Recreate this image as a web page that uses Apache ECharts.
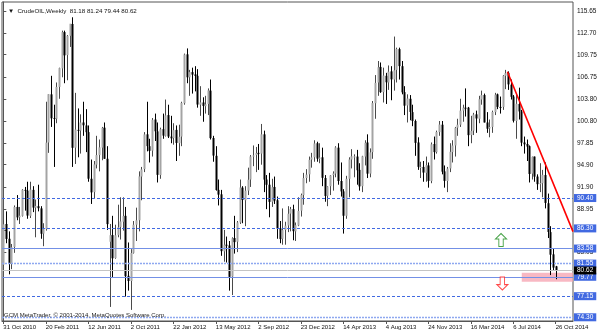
<!DOCTYPE html>
<html><head><meta charset="utf-8">
<script src="https://cdn.jsdelivr.net/npm/echarts@6/dist/echarts.min.js"></script>
<style>html,body{margin:0;padding:0;background:#fff}#c{width:600px;height:333px}</style>
</head><body><div id="c"></div>
<script>
// Weekly bars, first bar = week of 31 Oct 2010
const firstWeek = '2010-10-31';
const open = [81.4,86.9,84.9,81.5,83.8,89.2,87.8,88.0,91.5,91.4,
88.0,91.5,89.1,89.3,89.0,85.6,86.2,97.9,104.4,101.2,
101.1,105.4,107.9,112.8,109.7,112.3,113.9,97.2,99.6,99.5,
100.6,100.2,99.3,93.0,91.2,94.9,96.2,97.2,99.9,95.7,
84.5,85.4,82.3,85.4,86.5,87.2,88.0,79.9,79.2,83.0,
86.8,87.4,93.3,94.3,99.0,97.4,96.8,101.0,99.4,93.5,
99.7,98.8,101.6,98.7,98.5,99.6,97.8,98.7,103.2,109.8,
106.7,107.4,107.1,106.9,103.0,103.3,102.8,103.1,104.9,98.5,
96.1,91.5,90.9,83.2,84.1,84.0,79.8,85.0,84.5,87.1,
91.8,90.1,91.4,92.9,96.0,96.2,96.5,96.4,99.0,92.9,
92.2,89.9,91.9,90.1,86.3,84.9,86.1,86.7,88.3,88.9,
85.9,86.7,88.7,90.8,93.1,93.6,95.6,95.9,97.8,95.7,
95.9,93.1,90.7,92.0,93.5,93.7,97.2,92.7,91.3,88.0,
93.0,95.6,96.0,96.0,94.2,92.0,96.0,97.9,93.7,96.6,
103.2,106.0,108.1,104.7,106.9,106.0,107.5,106.4,107.7,110.5,
108.2,104.7,102.9,103.8,102.0,100.8,97.9,94.6,94.6,93.8,
94.8,92.7,97.7,96.6,99.3,100.3,94.0,92.7,94.4,96.6,
97.5,99.9,100.3,102.2,102.6,102.6,98.9,99.5,101.7,101.1,
103.7,104.3,100.6,99.8,100.0,102.0,104.4,102.7,102.7,106.9,
107.3,105.7,104.1,100.8,103.1,102.1,97.9,97.7,97.4,93.7,
96.0,93.3,92.3,92.4,93.5,89.7,85.8,82.8,81.18];
const high = [87.4,88.6,85.9,84.2,89.4,90.8,89.2,91.6,91.9,92.6,
92.6,92.0,90.2,92.2,89.3,87.0,103.4,104.4,106.9,103.0,
106.0,108.0,113.0,113.0,112.4,113.9,114.8,104.6,102.5,101.7,
103.4,102.4,100.2,95.6,95.4,98.8,98.3,100.0,100.6,97.4,
86.9,88.0,86.8,89.5,90.5,90.5,89.2,84.4,83.5,87.3,
89.1,94.0,94.6,99.3,103.4,98.4,101.2,101.8,100.6,99.9,
101.8,103.7,103.0,101.5,100.5,100.2,100.3,103.4,109.9,110.6,
107.7,108.0,108.2,107.8,105.5,104.0,104.2,105.2,106.4,98.8,
97.4,92.9,91.5,86.1,85.2,84.6,85.1,88.0,87.3,92.9,
92.0,92.0,94.5,96.2,97.5,97.3,97.7,100.4,99.5,93.5,
93.8,93.0,93.3,90.6,87.3,89.0,87.2,89.3,89.2,89.5,
87.1,90.5,91.0,93.8,94.3,96.0,96.5,98.2,98.0,97.8,
97.2,93.5,92.0,93.5,94.0,97.4,97.8,95.2,91.6,93.4,
95.9,97.0,96.3,96.9,95.1,96.1,98.2,99.0,97.1,103.5,
107.0,108.9,108.7,108.0,107.3,108.3,108.2,112.2,110.7,110.7,
108.9,105.5,104.4,104.3,103.0,101.0,98.6,95.3,95.4,96.0,
95.2,97.9,98.7,99.5,100.8,100.8,94.8,94.6,97.8,98.2,
100.0,101.1,103.8,103.0,105.2,102.7,101.5,101.9,102.2,104.2,
104.9,104.5,102.0,101.0,102.2,104.6,104.5,104.1,107.0,107.7,
107.5,106.4,104.3,104.4,105.3,102.3,98.7,98.3,97.5,96.0,
96.0,93.6,95.1,94.2,95.2,91.0,86.6,83.6,81.24];
const low = [81.3,84.3,80.1,80.8,83.0,87.4,86.9,87.9,88.7,87.6,
87.7,88.5,85.1,88.6,84.9,83.9,86.0,96.5,100.0,94.6,
100.5,103.8,106.7,105.9,106.3,110.8,94.6,95.0,95.9,96.4,
98.8,96.6,92.6,89.6,90.3,94.4,94.0,95.5,95.7,86.1,
75.7,79.6,82.2,85.1,84.8,86.0,77.1,77.9,75.3,82.9,
84.6,85.9,90.1,93.9,96.7,95.2,96.0,98.1,92.5,93.0,
98.4,98.7,98.5,97.8,97.6,95.4,96.1,97.4,103.0,105.9,
104.2,104.5,104.8,102.6,101.5,100.7,101.8,101.6,98.3,95.3,
91.4,89.4,82.6,81.8,81.7,77.9,77.3,82.9,83.1,86.9,
87.0,86.6,90.8,91.9,94.7,93.9,94.2,94.9,91.2,88.9,
87.8,89.2,89.6,84.9,84.3,84.1,84.1,85.8,85.9,84.7,
84.6,86.6,87.9,89.5,92.4,92.6,94.5,95.3,95.3,95.1,
92.0,89.9,89.3,90.8,91.4,93.2,92.2,90.6,85.6,87.6,
90.5,94.4,93.2,92.2,91.4,91.2,94.8,93.1,93.2,95.7,
101.1,104.2,104.6,103.3,103.1,105.0,103.6,104.9,106.0,106.4,
104.4,101.6,100.6,100.9,100.1,96.1,94.2,93.1,92.6,92.6,
91.8,92.4,95.6,96.4,98.8,93.6,91.8,91.2,93.9,95.2,
96.0,98.8,100.0,100.7,101.4,97.4,97.8,98.9,99.2,100.5,
103.0,100.6,99.2,98.6,99.2,101.6,102.4,101.8,102.3,105.1,
105.0,103.7,100.6,98.4,101.0,97.4,96.4,95.4,92.5,92.9,
92.6,91.5,91.2,90.5,89.0,85.0,80.0,80.6,79.44];
const close = [86.85,84.88,81.51,83.76,89.19,87.79,88.02,91.51,91.38,88.03,
91.54,89.11,89.34,89.03,85.58,86.20,97.88,104.42,101.16,101.07,
105.40,107.94,112.79,109.66,112.29,113.93,97.18,99.65,99.49,100.59,
100.22,99.29,93.01,91.16,94.94,96.20,97.24,99.87,95.70,86.88,
85.38,82.26,85.37,86.45,87.24,87.96,79.85,79.20,82.98,86.80,
87.40,93.32,94.26,98.99,97.41,96.77,100.96,99.41,93.53,99.68,
98.83,101.56,98.70,98.46,99.56,97.84,98.67,103.24,109.77,106.70,
107.40,107.06,106.87,103.02,103.31,102.83,103.05,104.93,98.49,96.13,
91.48,90.86,83.23,84.10,84.03,79.76,84.96,84.45,87.10,91.83,
90.13,91.40,92.87,96.01,96.15,96.47,96.42,99.00,92.89,92.19,
89.88,91.86,90.05,86.28,84.86,86.07,86.67,88.28,88.91,85.93,
86.73,88.66,90.80,93.09,93.56,95.56,95.88,97.77,95.72,95.86,
93.13,90.68,91.95,93.45,93.71,97.23,92.70,91.29,88.01,93.00,
95.61,96.04,96.02,94.15,91.97,96.03,97.85,93.69,96.56,103.22,
105.95,108.05,104.70,106.94,106.03,107.46,106.42,107.65,110.53,108.21,
104.67,102.87,103.84,102.02,100.81,97.85,94.61,94.60,93.84,94.84,
92.72,97.65,96.60,99.32,100.32,93.96,92.72,94.37,96.64,97.49,
99.88,100.30,102.20,102.59,102.58,98.89,99.46,101.67,101.14,103.74,
104.30,100.60,99.76,99.99,102.02,104.35,102.71,102.66,106.91,107.26,
105.74,104.06,100.83,103.13,102.09,97.88,97.65,97.35,93.65,95.96,
93.29,92.27,92.41,93.54,89.74,85.82,82.75,81.01,80.62];

const xTickLabels = ['31 Oct 2010','20 Feb 2011','12 Jun 2011','2 Oct 2011','22 Jan 2012','13 May 2012','2 Sep 2012','23 Dec 2012','14 Apr 2013','4 Aug 2013','24 Nov 2013','16 Mar 2014','6 Jul 2014','26 Oct 2014'];
const yTickLabels = [115.65,112.70,109.75,106.75,103.80,100.80,97.85,94.90,91.90,88.95,86.00,83.05];
const levels = [
  {v:90.40, kind:'dash'}, {v:86.30, kind:'dash'}, {v:83.58, kind:'solid'},
  {v:81.55, kind:'dot'}, {v:79.77, kind:'solid'}, {v:77.15, kind:'dash'}, {v:74.30, kind:'dot'}
];
const bidPrice = 80.62;
const trendStart = [189.8, 107.45];
const trendEnd = [214.5, 85.86];
const upArrow = [187.4, 84.73];
const downArrow = [187.9, 78.86];
const zone = {x0:195.2, x1:214.5, top:80.32, bottom:79.11};

const EMPTY = 6; // chart shift
const N = close.length;
const months = ['Jan','Feb','Mar','Apr','May','Jun','Jul','Aug','Sep','Oct','Nov','Dec'];
const categories = [];
const d0 = new Date(firstWeek + 'T00:00:00Z');
for (let i = 0; i < N + EMPTY; i++) {
  const d = new Date(d0.getTime() + i * 7 * 86400000);
  categories.push(d.getUTCDate() + ' ' + months[d.getUTCMonth()] + ' ' + d.getUTCFullYear());
}
const bars = close.map((c, i) => [i, open[i], c, low[i], high[i]]);
const FONT = 'Liberation Sans';

const lvlStyle = {
  dash: {color:'#4169e1', type:[3,2], width:1},
  solid: {color:'#7390e6', type:'solid', width:1},
  dot: {color:'#8ea8f0', type:[2,1], width:1.4}
};
const markData = levels.map(l => ({
  yAxis: l.v,
  lineStyle: lvlStyle[l.kind],
  label: {show: true, position: 'end', distance: 1, formatter: l.v.toFixed(2),
    backgroundColor: '#4169e1', color: '#fff', padding: [1,3,0,3], fontSize: 6.5, fontFamily: FONT}
}));
markData.push({
  yAxis: bidPrice,
  lineStyle: {color: '#c4c4c4', width: 1, type: 'solid'},
  label: {show: true, position: 'end', distance: 1, formatter: bidPrice.toFixed(2),
    backgroundColor: '#000', color: '#fff', padding: [1,3,0,3], fontSize: 6.5, fontFamily: FONT}
});

const xInterval = (idx) => idx % 16 === 0 && idx < N;

function renderBar(params, api) {
  const i = api.value(0);
  const o = api.value(1), c = api.value(2), l = api.value(3), h = api.value(4);
  const pO = api.coord([i, o]), pC = api.coord([i, c]);
  const pL = api.coord([i, l]), pH = api.coord([i, h]);
  const cx = Math.round(pO[0]);
  const bull = c >= o;
  const top = Math.min(pO[1], pC[1]), bot = Math.max(pO[1], pC[1]);
  return {type: 'group', children: [
    {type: 'line', shape: {x1: cx + 0.5, y1: pH[1], x2: cx + 0.5, y2: pL[1]},
     style: {stroke: bull ? '#4a4a4a' : '#000', lineWidth: 1}},
    {type: 'rect', shape: {x: cx - 0.5, y: top, width: 2, height: Math.max(1, bot - top)},
     style: {fill: bull ? '#a4a4a4' : '#000'}}
  ]};
}

const chart = echarts.init(document.getElementById('c'), null, {renderer: 'canvas'});
chart.setOption({
  animation: false,
  backgroundColor: '#fff',
  title: {
    text: '\u25BC  CrudeOIL,Weekly  ' + open[N-1].toFixed(2) + ' ' + high[N-1].toFixed(2) + ' ' + low[N-1].toFixed(2) + ' ' + close[N-1].toFixed(2),
    left: 3, top: 3,
    textStyle: {fontSize: 6.2, fontWeight: 'normal', color: '#111', fontFamily: FONT}
  },
  graphic: [{
    type: 'text', left: 4, top: 312, z: 10,
    style: {text: 'GCM MetaTrader, \u00A9 2001-2014, MetaQuotes Software Corp.', fontSize: 6, fill: '#222', fontFamily: FONT}
  }],
  grid: {left: 2, right: 27, top: 2, bottom: 12, show: true, borderColor: '#555', borderWidth: 1, backgroundColor: '#fff'},
  xAxis: [{
    type: 'category', data: categories, boundaryGap: true,
    axisLine: {show: true, lineStyle: {color: '#555'}},
    axisTick: {show: true, interval: xInterval, alignWithLabel: true, length: 3, lineStyle: {color: '#555'}},
    axisLabel: {interval: xInterval, align: 'left', margin: 3, fontSize: 6, color: '#111', fontFamily: FONT},
    splitLine: {show: false}
  }, {
    type: 'value', min: -0.5, max: 214.5, show: false
  }],
  yAxis: {
    type: 'value', position: 'right', min: 73.80, max: 116.865, scale: true,
    axisLine: {show: true, lineStyle: {color: '#555'}},
    axisTick: {show: true, customValues: yTickLabels, length: 3, inside: false, lineStyle: {color: '#555'}},
    axisLabel: {customValues: yTickLabels, formatter: v => v.toFixed(2), margin: 4, fontSize: 6.5, color: '#111', fontFamily: FONT},
    splitLine: {show: false}
  },
  series: [{
    type: 'custom', data: bars, renderItem: renderBar, encode: {x: 0, y: [1, 2, 3, 4]}, silent: true, z: 3,
    markLine: {silent: true, symbol: ['none','none'], animation: false, data: markData}
  }, {
    type: 'line', xAxisIndex: 1, data: [trendStart, trendEnd], symbol: 'none',
    lineStyle: {color: '#ff0000', width: 1.6}, z: 5, silent: true,
    markArea: {silent: true, itemStyle: {color: 'rgba(245,160,175,0.75)'},
      data: [[{coord: [zone.x0, zone.top]}, {coord: [zone.x1, zone.bottom]}]]}
  }, {
    type: 'scatter', xAxisIndex: 1, data: [upArrow], symbolSize: [11, 13],
    symbol: 'path://M5,0 L10,5 L7,5 L7,12 L3,12 L3,5 L0,5 Z',
    itemStyle: {color: '#fff', borderColor: '#1a8c1a', borderWidth: 1}, z: 6, silent: true
  }, {
    type: 'scatter', xAxisIndex: 1, data: [downArrow], symbolSize: [11, 13],
    symbol: 'path://M3,0 L7,0 L7,7 L10,7 L5,12 L0,7 L3,7 Z',
    itemStyle: {color: '#fff', borderColor: '#ff1a1a', borderWidth: 1}, z: 6, silent: true
  }]
});
</script></body></html>
